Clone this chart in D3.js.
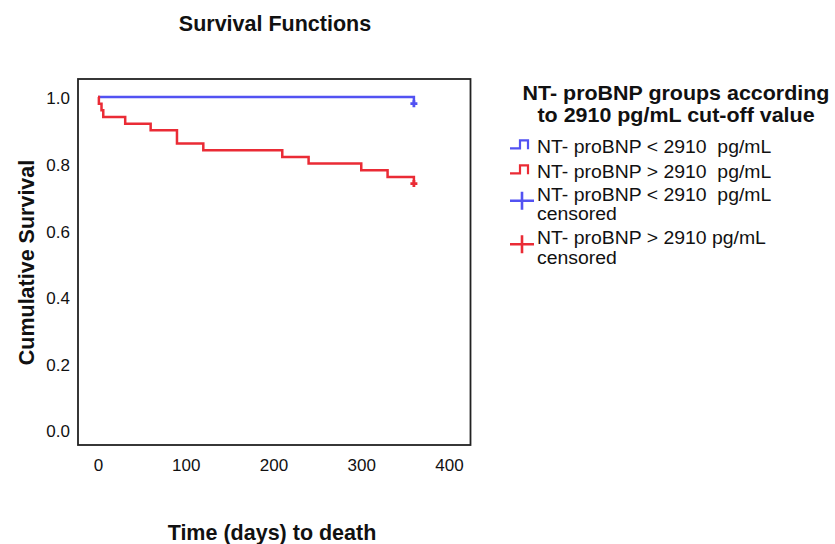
<!DOCTYPE html>
<html lang="en">

<head>
  <meta charset="UTF-8">
  <script src="https://cdnjs.cloudflare.com/ajax/libs/d3/7.8.5/d3.min.js"></script>
  <title>Survival Functions</title>
  <style>
    body { margin: 0; background: #fff; }
    text { font-family: "Liberation Sans", Arial, sans-serif; fill: #111; white-space: pre; }
  </style>
</head>

<body>
  <div id="chart"></div>
  <script>
    // Kaplan-Meier steps (days, cumulative survival)
    const lowTimes = [0, 360];
    const lowSurv = [1.0, 0.98];
    const highTimes = [0, 1, 4, 6, 31, 60, 90, 120, 210, 240, 300, 330, 360];
    const highSurv = [1.0, 0.98, 0.96, 0.94, 0.92, 0.90, 0.86, 0.84, 0.82, 0.80, 0.78, 0.76, 0.74];
    // censored at end of follow-up
    const censorTimes = [360, 360];
    const censorSurv = [0.98, 0.74];

    const xTicks = [0, 100, 200, 300, 400];
    const yTicks = [0.0, 0.2, 0.4, 0.6, 0.8, 1.0];
    const legendTitle = ['NT- proBNP groups according', 'to 2910 pg/mL cut-off value'];
    const legendLabels = [
      ['NT- proBNP < 2910  pg/mL'],
      ['NT- proBNP > 2910  pg/mL'],
      ['NT- proBNP < 2910  pg/mL', 'censored'],
      ['NT- proBNP > 2910 pg/mL', 'censored']
    ];

    const blue = '#5252f2';
    const red = '#ea2b35';

    const W = 835, H = 544;
    const plot = { left: 78, right: 470.5, top: 79, bottom: 445 };

    const svg = d3.select('#chart')
      .append('svg')
      .attr('width', W)
      .attr('height', H);

    // 0 -> 98px, 400 -> 449px ; 1.0 -> 97px, 0.0 -> 430px
    const xScale = d3.scaleLinear().domain([0, 400]).range([98, 449]);
    const yScale = d3.scaleLinear().domain([0, 1]).range([430, 97]);

    svg.append('text')
      .attr('x', 275).attr('y', 31)
      .attr('text-anchor', 'middle')
      .style('font-size', '21.5px').style('font-weight', 'bold')
      .text('Survival Functions');

    // frame
    svg.append('rect')
      .attr('x', plot.left).attr('y', plot.top)
      .attr('width', plot.right - plot.left)
      .attr('height', plot.bottom - plot.top)
      .attr('fill', 'none')
      .attr('stroke', '#222')
      .attr('stroke-width', 1.8);

    // axes without tick marks, labels only
    const xAxis = svg.append('g')
      .attr('transform', `translate(0, ${plot.bottom})`)
      .call(d3.axisBottom(xScale).tickValues(xTicks).tickSize(0).tickPadding(0).tickFormat(d3.format('d')));
    xAxis.select('.domain').remove();
    xAxis.selectAll('text')
      .attr('y', 25.5)
      .attr('dy', null)
      .style('font-size', '17px')
      .style('fill', '#111');

    const yAxis = svg.append('g')
      .attr('transform', `translate(${plot.left}, 0)`)
      .call(d3.axisLeft(yScale).tickValues(yTicks).tickSize(0).tickPadding(0).tickFormat(d3.format('.1f')));
    yAxis.select('.domain').remove();
    yAxis.selectAll('text')
      .attr('x', -8)
      .attr('dy', '0.4em')
      .style('font-size', '17px')
      .style('fill', '#111');

    svg.append('text')
      .attr('transform', 'translate(33.5, 262.5) rotate(-90)')
      .attr('text-anchor', 'middle')
      .style('font-size', '21.5px').style('font-weight', 'bold')
      .text('Cumulative Survival');

    svg.append('text')
      .attr('x', 272).attr('y', 540)
      .attr('text-anchor', 'middle')
      .style('font-size', '21.5px').style('font-weight', 'bold')
      .text('Time (days) to death');

    // survival curves
    const line = d3.line()
      .x(d => xScale(d[0]))
      .y(d => yScale(d[1]))
      .curve(d3.curveStepAfter);

    const groups = [
      { color: blue, pts: d3.zip(lowTimes, lowSurv) },
      { color: red, pts: d3.zip(highTimes, highSurv) }
    ];

    svg.selectAll('path.km')
      .data(groups)
      .enter()
      .append('path')
      .attr('class', 'km')
      .attr('d', d => line(d.pts))
      .attr('fill', 'none')
      .attr('stroke', d => d.color)
      .attr('stroke-width', 2.5);

    const censColors = [blue, red];
    svg.selectAll('path.cens')
      .data(d3.zip(censorTimes, censorSurv))
      .enter()
      .append('path')
      .attr('class', 'cens')
      .attr('d', d => {
        const cx = xScale(d[0]), cy = yScale(d[1]);
        return `M${cx - 3.5},${cy}H${cx + 3.5}M${cx},${cy - 3.5}V${cy + 3.5}`;
      })
      .attr('stroke', (d, i) => censColors[i])
      .attr('stroke-width', 2.8);

    // legend
    const lg = svg.append('g');
    // title glyphs in the picture are a bit wider than tall, so stretch a smaller font
    lg.selectAll('text.lt')
      .data(legendTitle)
      .enter()
      .append('text')
      .attr('class', 'lt')
      .attr('transform', (d, i) => `translate(676, ${99.5 + i * 22}) scale(1.1, 1)`)
      .attr('text-anchor', 'middle')
      .style('font-size', '19.5px').style('font-weight', 'bold')
      .text(d => d);

    const itemY = [153.3, 178.3, 200.7, 244.3];
    const items = lg.selectAll('g.item')
      .data(legendLabels)
      .enter()
      .append('g')
      .attr('class', 'item')
      .attr('transform', (d, i) => `translate(0, ${itemY[i]})`);

    items.each(function (d, i) {
      const g = d3.select(this);
      const c = i % 2 === 0 ? blue : red;
      if (i < 2) {
        g.append('path')
          .attr('d', 'M510,-5H520V-13H528V-4')
          .attr('fill', 'none')
          .attr('stroke', c)
          .attr('stroke-width', 2.2);
      } else {
        g.append('path')
          .attr('d', 'M510,0H534M522,-9V9')
          .attr('stroke', c)
          .attr('stroke-width', 2.6);
      }
      d.forEach((t, j) => {
        g.append('text')
          .attr('transform', `translate(537, ${j * 19.5}) scale(1.05, 1)`)
          .style('font-size', '18.5px')
          .text(t);
      });
    });
  </script>
</body>

</html>
